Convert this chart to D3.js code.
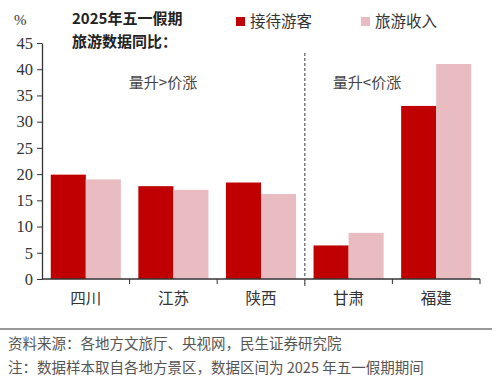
<!DOCTYPE html>
<html lang="zh">
<head>
<meta charset="UTF-8">
<title>2025年五一假期旅游数据同比</title>
<script src="https://d3js.org/d3.v7.min.js"></script>
<style>
  body { margin: 0; background: #fff; }
  .serif { font-family: "Liberation Serif", "Noto Sans CJK SC", serif; }
  .cjk { font-family: "Noto Sans CJK SC", sans-serif; }
</style>
</head>
<body>
<svg width="503" height="390"></svg>
<script>
const provinces = ["四川", "江苏", "陕西", "甘肃", "福建"];
const seriesNames = ["接待游客", "旅游收入"];
const visitors = [19.9, 17.7, 18.4, 6.4, 33.0];
const revenue = [19.0, 17.0, 16.2, 8.8, 41.0];
const yTicks = [0, 5, 10, 15, 20, 25, 30, 35, 40, 45];
const colors = ["#C00000", "#E8BCC0"];

const svg = d3.select("svg");
const plotLeft = 42, plotRight = 480, plotTop = 43, plotBottom = 279;

const x = d3.scaleBand().domain(provinces).range([plotLeft, plotRight]).padding(0);
const xs = d3.scaleBand().domain(seriesNames).range([0, x.bandwidth()]).paddingInner(0).paddingOuter(0.25);
const y = d3.scaleLinear().domain([0, 45]).range([plotBottom, plotTop]);

// bars
const rows = provinces.map((p, i) => ({ p, vals: [visitors[i], revenue[i]] }));
const groups = svg.append("g").selectAll("g").data(rows).join("g")
  .attr("transform", d => `translate(${x(d.p)},0)`);
groups.selectAll("rect").data(d => d.vals.map((v, k) => ({ k, v })))
  .join("rect")
  .attr("x", d => xs(seriesNames[d.k]))
  .attr("width", xs.bandwidth())
  .attr("y", d => y(d.v))
  .attr("height", d => y(0) - y(d.v))
  .attr("fill", d => colors[d.k]);

// y axis
const yAxis = svg.append("g").attr("transform", `translate(${plotLeft},0)`)
  .call(d3.axisLeft(y).tickValues(yTicks).tickSize(5).tickPadding(4).tickSizeOuter(0));
yAxis.select(".domain").attr("stroke", "#333").attr("stroke-width", 1.3);
yAxis.selectAll(".tick line").attr("stroke", "#333");
yAxis.selectAll("text").attr("class", "serif").attr("font-size", 16.5).attr("fill", "#333");

// x axis
const bounds = provinces.map(p => x(p)).concat([plotRight]);
const xAxis = svg.append("g").attr("transform", `translate(0,${plotBottom})`);
xAxis.append("line").attr("x1", plotLeft).attr("x2", plotRight).attr("stroke", "#333").attr("stroke-width", 1.3);
xAxis.selectAll(".tk").data(bounds.slice(1)).join("line")
  .attr("class", "tk")
  .attr("x1", d => d).attr("x2", d => d).attr("y1", 0).attr("y2", 5).attr("stroke", "#333");
xAxis.selectAll(".lbl").data(provinces).join("text")
  .attr("class", "serif lbl")
  .attr("x", d => x(d) + x.bandwidth() / 2)
  .attr("y", 25)
  .attr("text-anchor", "middle")
  .attr("font-size", 15.5)
  .attr("fill", "#333")
  .text(d => d);

// divider
const divX = x("甘肃");
svg.append("line").attr("x1", divX).attr("x2", divX).attr("y1", 53).attr("y2", 287)
  .attr("stroke", "#666").attr("stroke-width", 1.3).attr("stroke-dasharray", "3,2");

// annotations
svg.append("text").attr("class", "cjk").attr("x", 163).attr("y", 88)
  .attr("text-anchor", "middle").attr("font-size", 15).attr("fill", "#444").text("量升>价涨");
svg.append("text").attr("class", "cjk").attr("x", 367).attr("y", 88)
  .attr("text-anchor", "middle").attr("font-size", 15).attr("fill", "#444").text("量升<价涨");

// unit and title
svg.append("text").attr("class", "serif").attr("x", 14).attr("y", 25).attr("font-size", 15).attr("fill", "#333").text("%");
svg.append("text").attr("class", "cjk").attr("x", 72).attr("y", 24).attr("font-size", 15).attr("font-weight", "bold").attr("fill", "#222").text("2025年五一假期");
svg.append("text").attr("class", "cjk").attr("x", 72).attr("y", 47).attr("font-size", 15).attr("font-weight", "bold").attr("fill", "#222").text("旅游数据同比：");

// legend
const legendX = [236, 361];
seriesNames.forEach((s, k) => {
  svg.append("rect").attr("x", legendX[k]).attr("y", 17).attr("width", 9).attr("height", 9).attr("fill", colors[k]);
  svg.append("text").attr("class", "cjk").attr("x", legendX[k] + 14).attr("y", 27)
    .attr("font-size", 15.5).attr("fill", "#333").text(s);
});

// footer
svg.append("line").attr("x1", 0).attr("x2", 492).attr("y1", 329).attr("y2", 329).attr("stroke", "#777").attr("stroke-width", 1.5);
svg.append("text").attr("class", "cjk").attr("x", 8).attr("y", 349).attr("font-size", 14.5).attr("fill", "#555")
  .text("资料来源：各地方文旅厅、央视网，民生证券研究院");
svg.append("text").attr("class", "cjk").attr("x", 8).attr("y", 373).attr("font-size", 14.5).attr("fill", "#555")
  .text("注：数据样本取自各地方景区，数据区间为 2025 年五一假期期间");
</script>
</body>
</html>
